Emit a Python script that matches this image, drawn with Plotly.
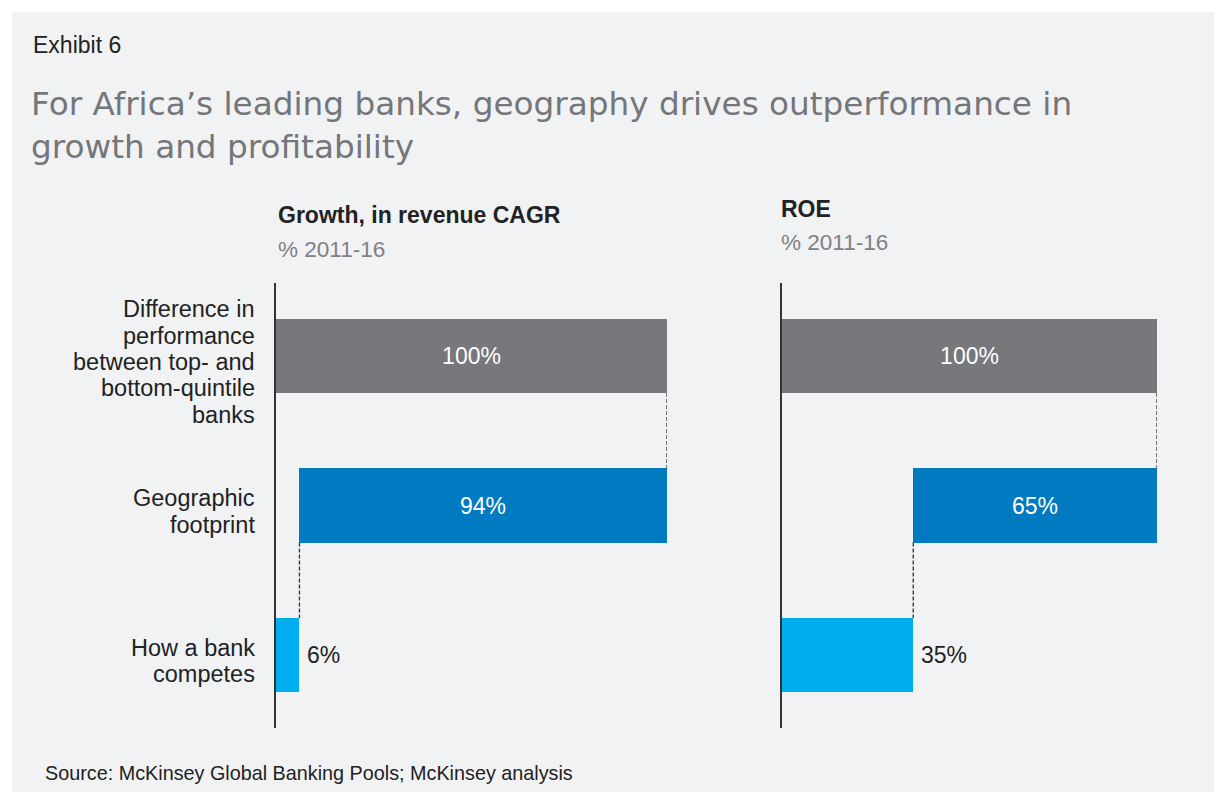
import plotly.graph_objects as go

# --- data -------------------------------------------------------------
categories = [
    "Difference in<br>performance<br>between top- and<br>bottom-quintile<br>banks",
    "Geographic<br>footprint",
    "How a bank<br>competes",
]
growth_total = 100
growth_geo = 94
growth_compete = 6
roe_total = 100
roe_geo = 65
roe_compete = 35

panel_titles = ["Growth, in revenue CAGR", "ROE"]
panel_units = ["% 2011-16", "% 2011-16"]

GRAY = "#77787b"
DARK_BLUE = "#007bc1"
LIGHT_BLUE = "#00aeef"
BG = "#f1f2f4"
INK = "#222222"
FONT = "Liberation Sans, Arial, sans-serif"
TITLE_FONT = "DejaVu Sans, Liberation Sans, Arial, sans-serif"

W, H = 1214, 792


def px(x):
    return x / W


def py(y):
    return 1 - y / H


fig = go.Figure()

panels = [
    dict(total=growth_total, geo=growth_geo, comp=growth_compete,
         xd=[px(276), px(667)], xa="x", ya="y"),
    dict(total=roe_total, geo=roe_geo, comp=roe_compete,
         xd=[px(782), px(1157)], xa="x2", ya="y2"),
]

BAR_W = 0.495
rows = [0, 1, 2]
annotations = []

for p in panels:
    lengths = [p["total"], p["geo"], p["comp"]]
    bases = [0, p["comp"], 0]
    fig.add_trace(go.Bar(
        orientation="h",
        y=rows,
        x=lengths,
        base=bases,
        width=BAR_W,
        marker=dict(color=[GRAY, DARK_BLUE, LIGHT_BLUE], line=dict(width=0)),
        text=[f"{v}%" for v in lengths[:2]] + [""],
        textposition="inside",
        insidetextanchor="middle",
        insidetextfont=dict(color="white", size=23, family=FONT),
        constraintext="none",
        hoverinfo="skip",
        showlegend=False,
        xaxis=p["xa"],
        yaxis=p["ya"],
    ))
    # label for the small bar, to the right of its end
    annotations.append(dict(
        x=p["comp"], y=2, xref=p["xa"], yref=p["ya"], xanchor="left",
        yanchor="middle", xshift=6, showarrow=False, text=f"{p['comp']}%",
        font=dict(size=23, color=INK, family=FONT)))
    # dashed connectors between the steps
    fig.add_shape(type="line", xref=p["xa"], yref=p["ya"],
                  x0=p["total"], x1=p["total"],
                  y0=0 + BAR_W / 2, y1=1 - BAR_W / 2,
                  line=dict(color="#333333", width=1.3, dash="4px,2px"))
    fig.add_shape(type="line", xref=p["xa"], yref=p["ya"],
                  x0=p["comp"], x1=p["comp"],
                  y0=1 + BAR_W / 2, y1=2 - BAR_W / 2,
                  line=dict(color="#333333", width=1.3, dash="4px,2px"))

yrange = [2.488, -0.488]
ydom = [py(728), py(283)]
axis_common = dict(range=[0, 100], visible=False, fixedrange=True)
yaxis_common = dict(range=yrange, domain=ydom, showline=True,
                    linecolor="#333333", linewidth=2, showticklabels=False,
                    ticks="", showgrid=False, zeroline=False, fixedrange=True)

fig.update_layout(
    width=W, height=H,
    margin=dict(l=0, r=0, t=0, b=0),
    paper_bgcolor="white",
    plot_bgcolor="rgba(0,0,0,0)",
    font=dict(family=FONT, color=INK),
    bargap=0,
    xaxis=dict(domain=panels[0]["xd"], anchor="y", **axis_common),
    yaxis=dict(anchor="x", **yaxis_common),
    xaxis2=dict(domain=panels[1]["xd"], anchor="y2", **axis_common),
    yaxis2=dict(anchor="x2", **yaxis_common),
)

# panel background
fig.add_shape(type="rect", xref="paper", yref="paper",
              x0=px(12), x1=1, y0=0, y1=py(12),
              fillcolor=BG, line=dict(width=0), layer="below")

# category labels, one line at a time with a tight line pitch
LINE_PITCH = 26.3
for r, lab in zip(rows, categories):
    lines = lab.split("<br>")
    n = len(lines)
    for i, line in enumerate(lines):
        offset = (i - (n - 1) / 2) * LINE_PITCH + 6
        annotations.append(dict(
            x=px(257), y=r, xref="paper", yref="y", xanchor="right",
            yanchor="middle", align="right", text=line, showarrow=False,
            yshift=-offset, font=dict(size=23.5, color=INK, family=FONT)))

# panel headers
for x0, ty, uy, t, u in [(276, 215, 249, panel_titles[0], panel_units[0]),
                          (779, 209, 242, panel_titles[1], panel_units[1])]:
    annotations.append(dict(x=px(x0), y=py(ty), xref="paper", yref="paper",
                            xanchor="left", yanchor="middle", showarrow=False,
                            text=f"<b>{t}</b>",
                            font=dict(size=23, color=INK, family=FONT)))
    annotations.append(dict(x=px(x0), y=py(uy), xref="paper", yref="paper",
                            xanchor="left", yanchor="middle", showarrow=False,
                            text=u, font=dict(size=22.5, color="#808184", family=FONT)))

annotations.append(dict(x=px(31), y=py(45), xref="paper", yref="paper",
                        xanchor="left", yanchor="middle", showarrow=False,
                        text="Exhibit 6", font=dict(size=23, color=INK, family=FONT)))
annotations.append(dict(x=px(29), y=py(125), xref="paper", yref="paper",
                        xanchor="left", yanchor="middle", showarrow=False, align="left",
                        text="For Africa’s leading banks, geography drives outperformance in<br>growth and profitability",
                        font=dict(size=32.7, color="#75767a", family=TITLE_FONT)))
annotations.append(dict(x=px(43), y=py(773), xref="paper", yref="paper",
                        xanchor="left", yanchor="middle", showarrow=False,
                        text="Source: McKinsey Global Banking Pools; McKinsey analysis",
                        font=dict(size=19.8, color=INK, family=FONT)))

fig.update_layout(annotations=annotations)

fig.write_html("out.html")
